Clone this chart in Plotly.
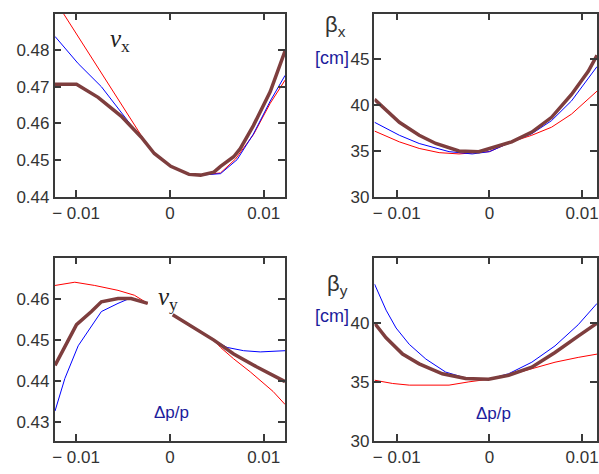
import plotly.graph_objects as go

W, H = 599, 474

# ---------------- data: nu_x (top-left) ----------------
nux_brown_x = [-0.01224, -0.00995, -0.00765, -0.0052, -0.00307, -0.00166, 0.0001, 0.00204, 0.00328, 0.00469, 0.0054, 0.0068, 0.0075, 0.0089, 0.0107, 0.01228]
nux_brown_y = [0.4707, 0.4707, 0.4671, 0.4620, 0.4563, 0.4518, 0.4483, 0.4461, 0.4459, 0.4467, 0.4483, 0.4509, 0.4531, 0.4594, 0.4687, 0.4798]
nux_blue_x = [-0.01224, -0.00977, -0.0073, -0.0052, -0.0034, -0.00166, 0.0001, 0.00204, 0.0033, 0.0054, 0.00716, 0.0089, 0.0107, 0.01228]
nux_blue_y = [0.4837, 0.4763, 0.4700, 0.4629, 0.4571, 0.4518, 0.4483, 0.4461, 0.4459, 0.4463, 0.4501, 0.4571, 0.4661, 0.4731]
nux_red_x = [-0.01228, -0.00275, -0.00166, 0.0001, 0.00204, 0.0033, 0.0054, 0.0070, 0.0089, 0.0107, 0.01228]
nux_red_y = [0.4937, 0.4555, 0.4518, 0.4483, 0.4461, 0.4459, 0.4465, 0.4503, 0.4569, 0.4655, 0.4718]

# ---------------- data: beta_x (top-right) ----------------
btx_brown_x = [-0.0124, -0.00972, -0.00758, -0.00579, -0.00329, -0.00115, 0.0024, 0.00457, 0.0067, 0.00885, 0.01064, 0.0116]
btx_brown_y = [40.64, 38.14, 36.72, 35.82, 35.0, 34.93, 36.0, 37.07, 38.68, 41.17, 43.68, 45.46]
btx_blue_x = [-0.0124, -0.00972, -0.00758, -0.00436, -0.00186, 0.0, 0.0024, 0.00457, 0.0067, 0.00885, 0.0116]
btx_blue_y = [38.14, 36.72, 35.82, 34.93, 34.68, 34.93, 36.0, 36.89, 38.32, 40.47, 44.22]
btx_red_x = [-0.0124, -0.00972, -0.00758, -0.00543, -0.00329, 0.0, 0.0024, 0.00457, 0.0067, 0.00885, 0.0116]
btx_red_y = [37.18, 36.0, 35.28, 34.82, 34.68, 34.93, 36.0, 36.72, 37.6, 39.03, 41.54]

# ---------------- data: nu_y (bottom-left) ----------------
nuy_brown_xl = [-0.01224, -0.01119, -0.00995, -0.00836, -0.0073, -0.00553, -0.00413, -0.00236]
nuy_brown_yl = [0.4438, 0.4486, 0.4538, 0.4570, 0.4594, 0.4602, 0.4602, 0.4590]
nuy_brown_xr = [0.0003, 0.00257, 0.00469, 0.0068, 0.00928, 0.01228]
nuy_brown_yr = [0.4562, 0.4530, 0.4500, 0.4466, 0.4434, 0.4398]
nuy_blue_xl = [-0.01224, -0.01119, -0.00977, -0.0073, -0.00553, -0.00431]
nuy_blue_yl = [0.4326, 0.4406, 0.4486, 0.4570, 0.4590, 0.4602]
nuy_blue_xr = [0.00469, 0.0061, 0.00786, 0.00963, 0.01228]
nuy_blue_yr = [0.4500, 0.4482, 0.4474, 0.4471, 0.4474]
nuy_red_xl = [-0.01224, -0.01013, -0.00801, -0.00553, -0.00378, -0.00236]
nuy_red_yl = [0.4634, 0.4642, 0.4634, 0.4622, 0.4610, 0.4590]
nuy_red_xr = [0.00469, 0.0054, 0.0068, 0.00857, 0.0110, 0.01228]
nuy_red_yr = [0.4500, 0.4482, 0.4454, 0.4422, 0.4374, 0.4342]

# ---------------- data: beta_y (bottom-right) ----------------
bty_brown_x = [-0.0124, -0.01115, -0.00937, -0.00758, -0.00508, -0.00257, -0.0001, 0.00207, 0.00457, 0.00707, 0.00957, 0.0116]
bty_brown_y = [40.0, 38.75, 37.36, 36.53, 35.69, 35.28, 35.22, 35.56, 36.25, 37.5, 38.89, 40.0]
bty_blue_x = [-0.0124, -0.01115, -0.01007, -0.00865, -0.00686, -0.00472, -0.00257, -0.0001, 0.00207, 0.00457, 0.00707, 0.00957, 0.0116]
bty_blue_y = [43.33, 41.1, 39.58, 38.19, 36.94, 35.83, 35.33, 35.22, 35.69, 36.67, 38.06, 39.86, 41.67]
bty_red_x = [-0.0124, -0.01044, -0.00865, -0.00436, -0.00222, -0.0001, 0.00207, 0.00457, 0.00707, 0.00957, 0.0116]
bty_red_y = [35.14, 34.86, 34.72, 34.72, 35.0, 35.22, 35.56, 36.11, 36.67, 37.08, 37.36]

# ---------------- tick labels ----------------
x_tickvals = [-0.01, 0, 0.01]
x_ticktext = ["\u2212 0.01", "0", "0.01"]
nux_ticks = [0.44, 0.45, 0.46, 0.47, 0.48, 0.49]
nux_ticktext = ["0.44", "0.45", "0.46", "0.47", "0.48", ""]
btx_ticks = [30, 35, 40, 45]
nuy_ticks = [0.43, 0.44, 0.45, 0.46]
bty_ticks = [30, 35, 40]

RED, BLUE, BROWN = "#ff0000", "#0000ff", "#7e3e3e"

fig = go.Figure()

def add(x, y, color, width, ax):
    fig.add_trace(go.Scatter(x=x, y=y, mode="lines", line=dict(color=color, width=width),
                             xaxis="x" + ax, yaxis="y" + ax, showlegend=False, hoverinfo="skip"))

# plot 1
add(nux_red_x, nux_red_y, RED, 1, "")
add(nux_blue_x, nux_blue_y, BLUE, 1, "")
add(nux_brown_x, nux_brown_y, BROWN, 3.5, "")
# plot 2
add(btx_red_x, btx_red_y, RED, 1, "2")
add(btx_blue_x, btx_blue_y, BLUE, 1, "2")
add(btx_brown_x, btx_brown_y, BROWN, 3.5, "2")
# plot 3
add(nuy_red_xl, nuy_red_yl, RED, 1, "3")
add(nuy_red_xr, nuy_red_yr, RED, 1, "3")
add(nuy_blue_xl, nuy_blue_yl, BLUE, 1, "3")
add(nuy_blue_xr, nuy_blue_yr, BLUE, 1, "3")
add(nuy_brown_xl, nuy_brown_yl, BROWN, 3.5, "3")
add(nuy_brown_xr, nuy_brown_yr, BROWN, 3.5, "3")
# plot 4
add(bty_red_x, bty_red_y, RED, 1, "4")
add(bty_blue_x, bty_blue_y, BLUE, 1, "4")
add(bty_brown_x, bty_brown_y, BROWN, 3.5, "4")

FRAME = "#3a3a3a"
TICKFONT = dict(family="Liberation Sans, Arial", size=17, color="#333333")

def xax(domain, rng, anchor):
    return dict(domain=domain, range=rng, anchor=anchor, tickvals=x_tickvals, ticktext=x_ticktext,
                ticks="inside", ticklen=7, tickwidth=1.5, tickcolor=FRAME, showline=True,
                linecolor=FRAME, linewidth=1.5, mirror="ticks", showgrid=False, zeroline=False,
                tickfont=TICKFONT, fixedrange=True)

def yax(domain, rng, anchor, tickvals, ticktext=None):
    d = dict(domain=domain, range=rng, anchor=anchor, tickvals=tickvals,
             ticks="inside", ticklen=7, tickwidth=1.5, tickcolor=FRAME, showline=True,
             linecolor=FRAME, linewidth=1.5, mirror="ticks", showgrid=False, zeroline=False,
             tickfont=TICKFONT, fixedrange=True)
    if ticktext is not None:
        d["ticktext"] = ticktext
    return d

xl = [53 / W, 285 / W]
xr = [375 / W, 1.0]
yt = [1 - 201 / H, 1 - 14 / H]
yb = [1 - 450.7 / H, 1 - 263.3 / H]

fig.update_layout(
    width=W, height=H, margin=dict(l=0, r=0, t=0, b=0),
    paper_bgcolor="white", plot_bgcolor="white",
    xaxis=xax(xl, [-0.01228, 0.01228], "y"),
    yaxis=yax(yt, [0.44, 0.4899], "x", nux_ticks, nux_ticktext),
    xaxis2=xax(xr, [-0.0124, 0.0116], "y2"),
    yaxis2=yax(yt, [30, 50], "x2", btx_ticks),
    xaxis3=xax(xl, [-0.01228, 0.01228], "y3"),
    yaxis3=yax(yb, [0.4252, 0.4702], "x3", nuy_ticks),
    xaxis4=xax(xr, [-0.0124, 0.0116], "y4"),
    yaxis4=yax(yb, [29.95, 45.56], "x4", bty_ticks),
)

def ann(text, px, py, size=18, color="#222222", family="Liberation Serif, Times New Roman", xanchor="center"):
    fig.add_annotation(text=text, x=px / W, y=1 - py / H, xref="paper", yref="paper",
                       showarrow=False, font=dict(family=family, size=size, color=color),
                       xanchor=xanchor, yanchor="middle")

ann("<i>\u03bd</i><sub>x</sub>", 119, 41, size=25)
ann("<i>\u03bd</i><sub>y</sub>", 167, 305, size=25)
ann("\u03b2<sub>x</sub>", 336, 27, size=22, color="#333333", family="Liberation Sans, Arial")
ann("\u03b2<sub>y</sub>", 338, 291, size=22, color="#333333", family="Liberation Sans, Arial")
ann("[cm]", 332, 59, size=18, color="#1c1c9c", family="Liberation Sans, Arial")
ann("[cm]", 332, 323, size=18, color="#1c1c9c", family="Liberation Sans, Arial")
ann("\u0394p/p", 171, 421, size=17, color="#1c1c9c", family="Liberation Sans, Arial")
ann("\u0394p/p", 495, 422, size=17, color="#1c1c9c", family="Liberation Sans, Arial")

fig.write_html("out.html", config=dict(displayModeBar=False))
